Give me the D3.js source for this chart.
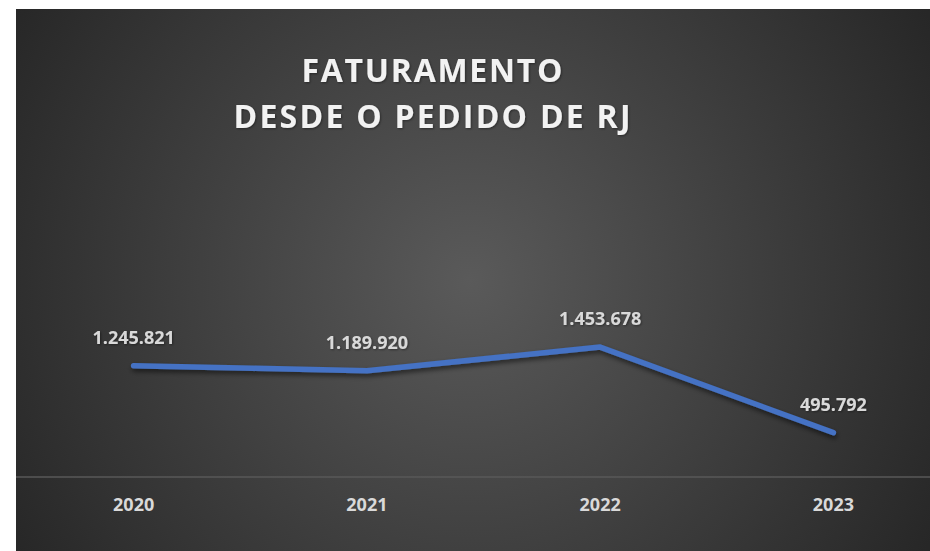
<!DOCTYPE html>
<html>
<head>
<meta charset="utf-8">
<script src="https://cdn.jsdelivr.net/npm/d3@7"></script>
<style>
  body { margin: 0; background: #fff; }
  svg { display: block; }
</style>
</head>
<body>
<svg id="chart"></svg>
<script>
const years = ["2020", "2021", "2022", "2023"];
const revenue = [1245821, 1189920, 1453678, 495792];
const titleLines = ["FATURAMENTO", "DESDE O PEDIDO DE RJ"];

const width = 930, height = 551;
const fmt = d => d3.format(",")(d).replace(/,/g, ".");

const svg = d3.select("#chart")
    .attr("width", width)
    .attr("height", height);

const defs = svg.append("defs");
const grad = defs.append("radialGradient")
    .attr("id", "bg")
    .attr("gradientUnits", "userSpaceOnUse")
    .attr("cx", 470).attr("cy", 280).attr("r", 540);
grad.append("stop").attr("offset", "0%").attr("stop-color", "#5a5a5a");
grad.append("stop").attr("offset", "100%").attr("stop-color", "#262626");

const shadow = defs.append("filter")
    .attr("id", "shadow")
    .attr("x", "-10%").attr("y", "-50%")
    .attr("width", "120%").attr("height", "200%");
shadow.append("feDropShadow")
    .attr("dx", 1).attr("dy", 3)
    .attr("stdDeviation", 2.5)
    .attr("flood-color", "#000")
    .attr("flood-opacity", 0.55);

const textShadow = defs.append("filter").attr("id", "tshadow");
textShadow.append("feDropShadow")
    .attr("dx", 1).attr("dy", 1)
    .attr("stdDeviation", 1)
    .attr("flood-color", "#000")
    .attr("flood-opacity", 0.4);

// chart area
svg.append("rect")
    .attr("x", 16).attr("y", 9)
    .attr("width", width - 16).attr("height", height - 9)
    .attr("fill", "url(#bg)");

// title
svg.append("g").selectAll("text")
    .data(titleLines)
    .join("text")
    .attr("x", 432)
    .attr("y", (d, i) => 82 + i * 46)
    .attr("text-anchor", "middle")
    .attr("textLength", (d, i) => i === 0 ? 261 : 397)
    .attr("lengthAdjust", "spacing")
    .attr("font-family", "'Open Sans', sans-serif")
    .attr("font-weight", 700)
    .attr("font-size", 32)
    .attr("fill", "#f2f2f2")
    .attr("filter", "url(#tshadow)")
    .text(d => d);

const x = d3.scaleBand()
    .domain(years)
    .range([17, 950]);

const y = d3.scaleLinear()
    .domain([0, 1600000])
    .range([477, 334]);

// category axis
const xAxis = svg.append("g")
    .attr("transform", "translate(0,477)")
    .call(d3.axisBottom(x).tickSize(0).tickPadding(21).tickSizeOuter(0));
xAxis.select(".domain")
    .attr("stroke", "#595959")
    .attr("stroke-width", 1.5)
    .attr("d", `M16,0H${width}`);
xAxis.selectAll("text")
    .attr("font-family", "'Open Sans', sans-serif")
    .attr("font-weight", 700)
    .attr("font-size", 18)
    .attr("fill", "#d9d9d9");

const cx = d => x(d) + x.bandwidth() / 2;

const line = d3.line()
    .x((d, i) => cx(years[i]))
    .y(d => y(d));

svg.append("path")
    .datum(revenue)
    .attr("d", line)
    .attr("fill", "none")
    .attr("stroke", "#4472c4")
    .attr("stroke-width", 5.5)
    .attr("stroke-linecap", "round")
    .attr("stroke-linejoin", "round")
    .attr("filter", "url(#shadow)");

svg.append("g").selectAll("text")
    .data(revenue)
    .join("text")
    .attr("x", (d, i) => cx(years[i]))
    .attr("y", d => y(d) - 22)
    .attr("text-anchor", "middle")
    .attr("font-family", "'Open Sans', sans-serif")
    .attr("font-weight", 700)
    .attr("font-size", 18)
    .attr("fill", "#d9d9d9")
    .attr("filter", "url(#tshadow)")
    .text(fmt);
</script>
</body>
</html>
